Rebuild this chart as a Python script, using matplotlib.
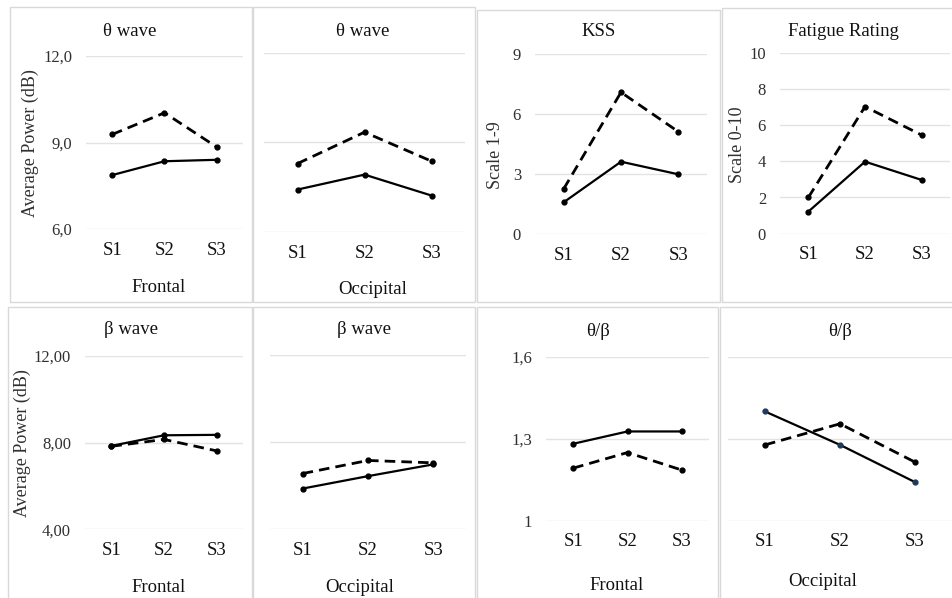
import matplotlib.pyplot as plt
from matplotlib.patches import Rectangle

plt.rcParams['font.family'] = ['Liberation Serif', 'DejaVu Serif']

W, H = 952, 598

sessions = ["S1", "S2", "S3"]

# theta wave power (dB)
theta_front_solid = [7.87, 8.35, 8.40]
theta_front_dash = [9.28, 10.03, 8.84]
theta_occ_solid = [7.42, 7.92, 7.22]
theta_occ_dash = [8.29, 9.34, 8.37]

# subjective scales
kss_solid = [1.6, 3.63, 3.0]
kss_dash = [2.27, 7.1, 5.13]
fatigue_solid = [1.22, 3.98, 2.97]
fatigue_dash = [2.0, 7.02, 5.45]

# beta wave power (dB)
beta_front_solid = [7.85, 8.34, 8.36]
beta_front_dash = [7.83, 8.15, 7.62]
beta_occ_solid = [5.87, 6.44, 6.98]
beta_occ_dash = [6.56, 7.16, 7.05]

# theta/beta ratio
ratio_front_solid = [1.282, 1.327, 1.327]
ratio_front_dash = [1.193, 1.25, 1.186]
ratio_occ_solid = [1.40, 1.278, 1.142]
ratio_occ_dash = [1.278, 1.355, 1.215]

fig = plt.figure(figsize=(W / 100, H / 100), dpi=100)


def fx(x):
    return x / W


def fy(y):
    return 1 - y / H


def box(x0, y0, x1, y1):
    fig.add_artist(Rectangle((fx(x0), fy(y1)), fx(x1 - x0), (y1 - y0) / H,
                             transform=fig.transFigure, fill=False,
                             edgecolor="#d9d9d9", lw=1))


def panel(l, r, t, b, solid, dash, ylim, yticks, ylabels,
          title, tpos, xlabel=None, xpos=None, ylabel=None, ypos=None,
          solid_marker_color="black"):
    ax = fig.add_axes([fx(l), fy(b), fx(r - l), (b - t) / H])
    x = range(len(sessions))
    ax.plot(x, dash, color="black", lw=2, dashes=(3.8, 2.2),
            marker="o", ms=3.5)
    ax.plot(x, solid, color="black", lw=1.6, marker="o", ms=3.5,
            mfc=solid_marker_color, mec=solid_marker_color)
    ax.set_xlim(-0.5, 2.5)
    ax.set_ylim(*ylim)
    ax.set_yticks(yticks)
    ax.set_yticklabels(ylabels if ylabels else [])
    ax.set_xticks(list(x))
    ax.set_xticklabels(sessions)
    ax.tick_params(axis="x", length=0, pad=9, labelsize=13.5, colors="#111111")
    ax.tick_params(axis="y", length=0, pad=10, labelsize=12, colors="#303030")
    ax.grid(axis="y", color="#e3e3e3", lw=1)
    ax.set_axisbelow(True)
    for s in ax.spines.values():
        s.set_visible(False)
    fig.text(fx(tpos[0]), fy(tpos[1]), title, ha="center", va="center",
             fontsize=13.5, color="#111111")
    if xlabel:
        fig.text(fx(xpos[0]), fy(xpos[1]), xlabel, ha="center", va="center",
                 fontsize=13.5, color="#111111")
    if ylabel:
        fig.text(fx(ypos[0]), fy(ypos[1]), ylabel, ha="center", va="center",
                 fontsize=13, rotation=90, color="#303030")
    return ax


# panel borders
box(10, 7, 252, 302)
box(253, 7, 475, 302)
box(477, 10, 720, 302)
box(722, 8, 960, 302)
box(8, 307, 252, 610)
box(253, 307, 475, 610)
box(477, 307, 718, 610)
box(720, 307, 960, 610)

panel(86, 243, 56, 229, theta_front_solid, theta_front_dash, (6, 12),
      [6, 9, 12], ["6,0", "9,0", "12,0"], "θ wave", (130, 31),
      "Frontal", (159, 287), "Average Power (dB)", (30, 143))
panel(264, 465, 52.7, 232, theta_occ_solid, theta_occ_dash, (6, 12),
      [6, 9, 12], None, "θ wave", (363, 31), "Occipital", (373, 290))
panel(535, 707, 54.3, 234.3, kss_solid, kss_dash, (0, 9),
      [0, 3, 6, 9], ["0", "3", "6", "9"], "KSS", (599, 32),
      ylabel="Scale 1-9", ypos=(495, 155))
panel(780, 950, 52.7, 233.7, fatigue_solid, fatigue_dash, (0, 10),
      [0, 2, 4, 6, 8, 10], ["0", "2", "4", "6", "8", "10"],
      "Fatigue Rating", (843, 31), ylabel="Scale 0-10", ypos=(737, 145))
panel(85, 243, 356, 529.3, beta_front_solid, beta_front_dash, (4, 12),
      [4, 8, 12], ["4,00", "8,00", "12,00"], "β wave", (131, 330),
      "Frontal", (159, 587), "Average Power (dB)", (22, 443))
panel(270, 466, 355, 529.3, beta_occ_solid, beta_occ_dash, (4, 12),
      [4, 8, 12], None, "β wave", (364, 330), "Occipital", (360, 587))
panel(546, 709, 356.7, 521, ratio_front_solid, ratio_front_dash, (1, 1.6),
      [1, 1.3, 1.6], ["1", "1,3", "1,6"], "θ/β", (598, 331),
      "Frontal", (617, 585))
panel(727.5, 952.5, 356.7, 521, ratio_occ_solid, ratio_occ_dash, (1, 1.6),
      [1, 1.3, 1.6], None, "θ/β", (840, 331), "Occipital", (823, 582),
      solid_marker_color="#1f3b5a")

fig.savefig("out.png", dpi=100, facecolor="white")
